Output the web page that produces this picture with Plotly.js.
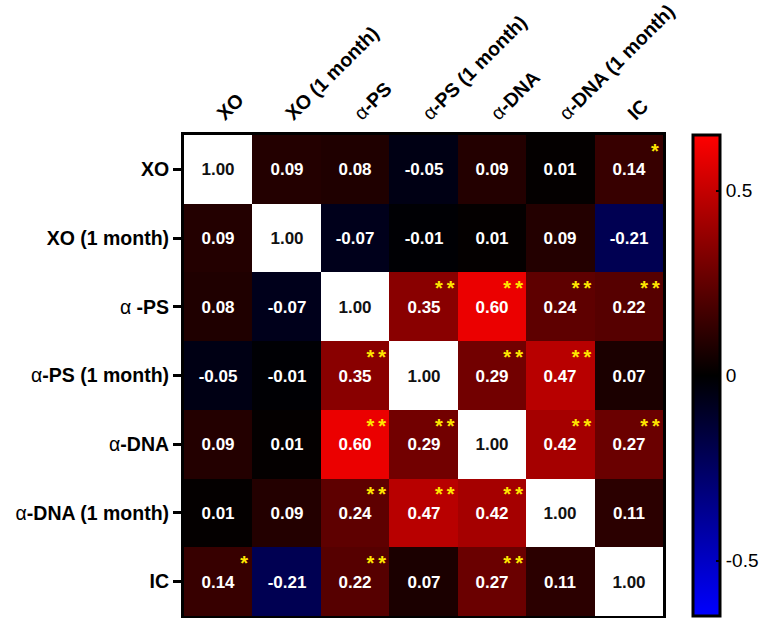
<!DOCTYPE html>
<html><head><meta charset="utf-8">
<script src="https://cdn.plot.ly/plotly-3.0.1.min.js"></script>
<style>html,body{margin:0;padding:0;background:#fff;}</style>
</head><body><div id="chart" style="width:771px;height:618px;"></div>
<script>
const xLabels = ["<b>XO</b>", "<b>XO (1 month)</b>", "α<b>-PS</b>", "α<b>-PS (1 month)</b>", "α<b>-DNA</b>", "α<b>-DNA (1 month)</b>", "<b>IC</b>"];
const yLabels = ["<b>XO</b>", "<b>XO (1 month)</b>", "α <b>-PS</b>", "α<b>-PS (1 month)</b>", "α<b>-DNA</b>", "α<b>-DNA (1 month)</b>", "<b>IC</b>"];
const corr = [
  [1.00, 0.09, 0.08, -0.05, 0.09, 0.01, 0.14],
  [0.09, 1.00, -0.07, -0.01, 0.01, 0.09, -0.21],
  [0.08, -0.07, 1.00, 0.35, 0.60, 0.24, 0.22],
  [-0.05, -0.01, 0.35, 1.00, 0.29, 0.47, 0.07],
  [0.09, 0.01, 0.60, 0.29, 1.00, 0.42, 0.27],
  [0.01, 0.09, 0.24, 0.47, 0.42, 1.00, 0.11],
  [0.14, -0.21, 0.22, 0.07, 0.27, 0.11, 1.00]
];
const signif = [
  ["", "", "", "", "", "", "*"],
  ["", "", "", "", "", "", ""],
  ["", "", "", "**", "**", "**", "**"],
  ["", "", "**", "", "**", "**", ""],
  ["", "", "**", "**", "", "**", "**"],
  ["", "", "**", "**", "**", "", ""],
  ["*", "", "**", "", "**", "", ""]
];

const n = corr.length;
const idx = [...Array(n).keys()];
const offDiag = corr.map((r, i) => r.map((v, j) => i === j ? null : v));
const diag = corr.map((r, i) => r.map((v, j) => i === j ? v : null));

const sx = [], sy = [], st = [];
signif.forEach((r, i) => r.forEach((s, j) => {
  if (s) { sx.push(j + (s.length > 1 ? 0.31 : 0.38)); sy.push(i - 0.24); st.push(s.split('').join('\u2009')); }
}));

const fontFam = "Arial, 'Liberation Sans', sans-serif";

const traces = [
  {
    type: 'heatmap', x: idx, y: idx, z: offDiag,
    zmin: -0.65, zmax: 0.65,
    colorscale: [[0, 'rgb(0,0,255)'], [0.5, 'rgb(0,0,0)'], [1, 'rgb(255,0,0)']],
    texttemplate: '%{z:.2f}',
    textfont: {family: fontFam, size: 17, color: '#ffffff', weight: 'bold'},
    hoverinfo: 'skip',
    colorbar: {
      x: 1.063, xanchor: 'left', xref: 'paper', xpad: 0, ypad: 0,
      y: 0.5, yanchor: 'middle', len: 1.0, lenmode: 'fraction',
      thickness: 27, outlinewidth: 3, outlinecolor: '#000',
      tickvals: [-0.5, 0, 0.5], ticktext: ['-0.5', '0', '0.5'],
      ticks: 'inside', ticklen: 5, tickwidth: 2, tickcolor: '#000',
      tickfont: {family: fontFam, size: 19, color: '#000'}
    }
  },
  {
    type: 'heatmap', x: idx, y: idx, z: diag,
    zmin: 0, zmax: 1,
    colorscale: [[0, '#ffffff'], [1, '#ffffff']],
    showscale: false,
    texttemplate: '%{z:.2f}',
    textfont: {family: fontFam, size: 17, color: '#111111', weight: 'bold'},
    hoverinfo: 'skip'
  },
  {
    type: 'scatter', mode: 'text', x: sx, y: sy, text: st,
    textposition: 'middle center',
    textfont: {family: fontFam, size: 20, color: '#ffe600', weight: 'bold'},
    hoverinfo: 'skip', showlegend: false
  }
];

const layout = {
  width: 771, height: 618,
  margin: {l: 184, r: 108, t: 135, b: 2},
  paper_bgcolor: '#fff', plot_bgcolor: '#fff',
  showlegend: false,
  xaxis: {
    side: 'top', range: [-0.5, n - 0.5],
    tickvals: idx, ticktext: xLabels, tickangle: -45,
    ticks: '', showgrid: false, zeroline: false,
    showline: true, mirror: true, linewidth: 3, linecolor: '#000',
    tickfont: {family: fontFam, size: 19.5, color: '#000'},
    fixedrange: true
  },
  yaxis: {
    range: [n - 0.5, -0.5],
    tickvals: idx, ticktext: yLabels,
    ticks: 'outside', ticklen: 8, tickwidth: 3, tickcolor: '#000',
    showgrid: false, zeroline: false,
    showline: true, mirror: true, linewidth: 3, linecolor: '#000',
    tickfont: {family: fontFam, size: 19.5, color: '#000'},
    fixedrange: true
  }
};

Plotly.newPlot('chart', traces, layout, {displayModeBar: false, staticPlot: true});
</script></body></html>
